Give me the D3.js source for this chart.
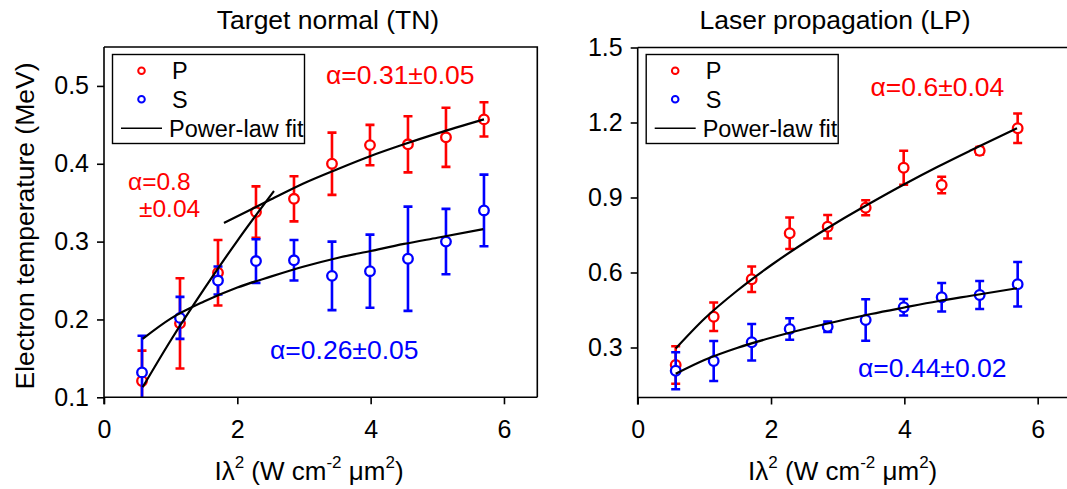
<!DOCTYPE html>
<html><head><meta charset="utf-8">
<script src="https://cdn.jsdelivr.net/npm/d3@7"></script>
<style>
body{margin:0;background:#fff}
svg{display:block}
text{font-family:"Liberation Sans", Arial, Helvetica, sans-serif;fill:#000}
</style>
</head><body>
<svg id="chart" width="1067" height="489"></svg>
<script>
// ---------- data ----------
const intensity = [0.57,1.14,1.71,2.28,2.85,3.42,3.99,4.56,5.13,5.70];

const tnP    = [0.121,0.195,0.260,0.338,0.355,0.400,0.424,0.425,0.434,0.457];
const tnPErr = [0.039,0.058,0.042,0.033,0.029,0.040,0.026,0.036,0.038,0.022];
const tnS    = [0.132,0.202,0.250,0.275,0.276,0.256,0.262,0.278,0.300,0.340];
const tnSErr = [0.047,0.027,0.018,0.028,0.026,0.044,0.047,0.067,0.042,0.046];

const lpP    = [0.230,0.423,0.573,0.757,0.783,0.859,1.019,0.950,1.087,1.177];
const lpPErr = [0.075,0.057,0.051,0.063,0.047,0.030,0.068,0.033,0.015,0.059];
const lpS    = [0.207,0.246,0.321,0.374,0.383,0.410,0.461,0.501,0.510,0.553];
const lpSErr = [0.074,0.080,0.073,0.043,0.021,0.083,0.033,0.057,0.056,0.089];

// power-law fit curves
const tnFitLowX  = [0.58,1.0,1.5,2.0,2.55];
const tnFitLowY  = [0.113,0.173,0.239,0.301,0.365];
const tnFitHighX = [1.8,2.5,3.0,3.5,4.0,4.5,5.0,5.7];
const tnFitHighY = [0.324,0.354,0.375,0.393,0.410,0.425,0.439,0.457];
const tnFitSX    = [0.58,1.0,1.5,2.0,2.5,3.0,3.5,4.0,4.5,5.0,5.69];
const tnFitSY    = [0.175,0.201,0.223,0.241,0.255,0.268,0.279,0.288,0.297,0.305,0.316];
const lpFitPX    = [0.57,1.0,1.5,2.0,2.5,3.0,3.5,4.0,4.5,5.0,5.69];
const lpFitPY    = [0.296,0.415,0.529,0.629,0.719,0.802,0.879,0.953,1.023,1.089,1.177];
const lpFitSX    = [0.57,1.0,1.5,2.0,2.5,3.0,3.5,4.0,4.5,5.0,5.69];
const lpFitSY    = [0.195,0.250,0.299,0.339,0.374,0.405,0.434,0.460,0.485,0.507,0.537];

const xTicks   = [0,2,4,6];
const tnYTicks = [0.1,0.2,0.3,0.4,0.5];
const lpYTicks = [0.3,0.6,0.9,1.2,1.5];

const legendLabels = ["P","S","Power-law fit"];
const RED = "#ff0000", BLUE = "#0000ff";

// ---------- drawing ----------
const svg = d3.select("#chart");

function panel(cfg){
  const g = svg.append("g");
  const x = d3.scaleLinear().domain([0,6.5]).range([cfg.left, cfg.left+433.3]);
  const y = d3.scaleLinear().domain(cfg.yDomain).range([cfg.bottom, cfg.top]);
  const clipId = "clip"+cfg.id;
  svg.append("clipPath").attr("id",clipId).append("rect")
    .attr("x",cfg.left).attr("y",cfg.top).attr("width",433.3).attr("height",cfg.bottom-cfg.top);

  const plot = g.append("g").attr("clip-path",`url(#${clipId})`);

  function series(vals, errs, color){
    const s = plot.append("g");
    vals.forEach((v,i)=>{
      const cx = x(intensity[i]);
      const y1 = y(v+errs[i]), y0 = y(v-errs[i]);
      s.append("line").attr("x1",cx).attr("x2",cx).attr("y1",y1).attr("y2",y0)
        .attr("stroke",color).attr("stroke-width",2.6);
      [y1,y0].forEach(yy=>s.append("line").attr("x1",cx-4.5).attr("x2",cx+4.5)
        .attr("y1",yy).attr("y2",yy).attr("stroke",color).attr("stroke-width",2.6));
    });
    vals.forEach((v,i)=>{
      s.append("circle").attr("cx",x(intensity[i])).attr("cy",y(v)).attr("r",4.8)
        .attr("fill","#fff").attr("stroke",color).attr("stroke-width",2.3);
    });
  }
  series(cfg.p, cfg.pErr, RED);
  series(cfg.s, cfg.sErr, BLUE);

  const line = d3.line().x(d=>x(d[0])).y(d=>y(d[1])).curve(d3.curveMonotoneX);
  cfg.fits.forEach(f=>{
    plot.append("path").attr("d", line(f[0].map((xv,i)=>[xv,f[1][i]])))
      .attr("fill","none").attr("stroke","#000").attr("stroke-width",2.2);
  });

  // frame (top + right)
  g.append("path").attr("d",`M${cfg.left},${cfg.top}H${cfg.left+433.3}V${cfg.bottom}`)
    .attr("fill","none").attr("stroke","#000").attr("stroke-width",1.6);

  // axes
  const xa = g.append("g").attr("transform",`translate(0,${cfg.bottom})`)
    .call(d3.axisBottom(x).tickValues(xTicks).tickSize(7).tickSizeOuter(0).tickPadding(16).tickFormat(d3.format("d")));
  const ya = g.append("g").attr("transform",`translate(${cfg.left},0)`)
    .call(d3.axisLeft(y).tickValues(cfg.yTicks).tickSize(7).tickSizeOuter(0).tickPadding(8).tickFormat(d3.format(".1f")));
  [xa,ya].forEach(a=>{
    a.select(".domain").attr("stroke-width",1.6);
    a.selectAll(".tick line").attr("stroke-width",1.6);
    a.selectAll("text").attr("font-size",25).attr("font-family",null);
  });
  xa.select(".domain").attr("d",`M${cfg.left},0H${cfg.left+433.3}`);
  ya.select(".domain").attr("d",`M0,${cfg.bottom+7}V${cfg.top}`);

  // title
  g.append("text").attr("x",cfg.titleX).attr("y",29).attr("text-anchor","middle")
    .attr("font-size",26.5).text(cfg.title);

  // x label
  const xl = g.append("text").attr("x",cfg.left+205).attr("y",480).attr("text-anchor","middle").attr("font-size",26);
  xl.append("tspan").text("Iλ");
  xl.append("tspan").attr("font-size",17).attr("dy",-12).text("2");
  xl.append("tspan").attr("dy",12).text(" (W cm");
  xl.append("tspan").attr("font-size",17).attr("dy",-12).text("-2");
  xl.append("tspan").attr("dy",12).text(" μm");
  xl.append("tspan").attr("font-size",17).attr("dy",-12).text("2");
  xl.append("tspan").attr("dy",12).text(")");

  // legend
  const lg = g.append("g");
  lg.append("rect").attr("x",cfg.left+8.5).attr("y",54.5).attr("width",192).attr("height",89)
    .attr("fill","#fff").attr("stroke","#000").attr("stroke-width",1.4);
  const rows = [70.7, 99.3, 128.3];
  lg.append("circle").attr("cx",cfg.left+37.5).attr("cy",rows[0]).attr("r",3.3)
    .attr("fill","none").attr("stroke",RED).attr("stroke-width",2);
  lg.append("circle").attr("cx",cfg.left+37.5).attr("cy",rows[1]).attr("r",3.3)
    .attr("fill","none").attr("stroke",BLUE).attr("stroke-width",2);
  lg.append("line").attr("x1",cfg.left+17).attr("x2",cfg.left+58).attr("y1",rows[2]).attr("y2",rows[2])
    .attr("stroke","#000").attr("stroke-width",1.6);
  legendLabels.forEach((t,i)=>{
    lg.append("text").attr("x", i<2 ? cfg.left+68 : cfg.left+65).attr("y",rows[i]+8.5)
      .attr("font-size",23.5).text(t);
  });

  // annotations
  cfg.notes.forEach(n=>{
    g.append("text").attr("x",n.x).attr("y",n.y).attr("font-size",n.fs || 26.5)
      .attr("fill",n.c).style("fill",n.c).text(n.t);
  });
}

panel({
  id:"tn", left:104, top:47, bottom:397.3, yDomain:[0.1,0.55], yTicks:tnYTicks,
  p:tnP, pErr:tnPErr, s:tnS, sErr:tnSErr,
  fits:[[tnFitLowX,tnFitLowY],[tnFitHighX,tnFitHighY],[tnFitSX,tnFitSY]],
  title:"Target normal (TN)", titleX:328,
  notes:[
    {t:"α=0.31±0.05", x:326, y:84, c:RED},
    {t:"α=0.8", x:128, y:190, c:RED, fs:24.5},
    {t:"±0.04", x:139, y:217, c:RED, fs:24.5},
    {t:"α=0.26±0.05", x:270, y:359, c:BLUE}
  ]
});
panel({
  id:"lp", left:637.7, top:47.5, bottom:397.5, yDomain:[0.1,1.5], yTicks:lpYTicks,
  p:lpP, pErr:lpPErr, s:lpS, sErr:lpSErr,
  fits:[[lpFitPX,lpFitPY],[lpFitSX,lpFitSY]],
  title:"Laser propagation (LP)", titleX:835,
  notes:[
    {t:"α=0.6±0.04", x:870.5, y:95.5, c:RED},
    {t:"α=0.44±0.02", x:858, y:376.5, c:BLUE}
  ]
});

// y axis label (left panel only)
svg.append("text").attr("transform","translate(34,226) rotate(-90)")
  .attr("text-anchor","middle").attr("font-size",26.5).text("Electron temperature (MeV)");
</script>
</body></html>
